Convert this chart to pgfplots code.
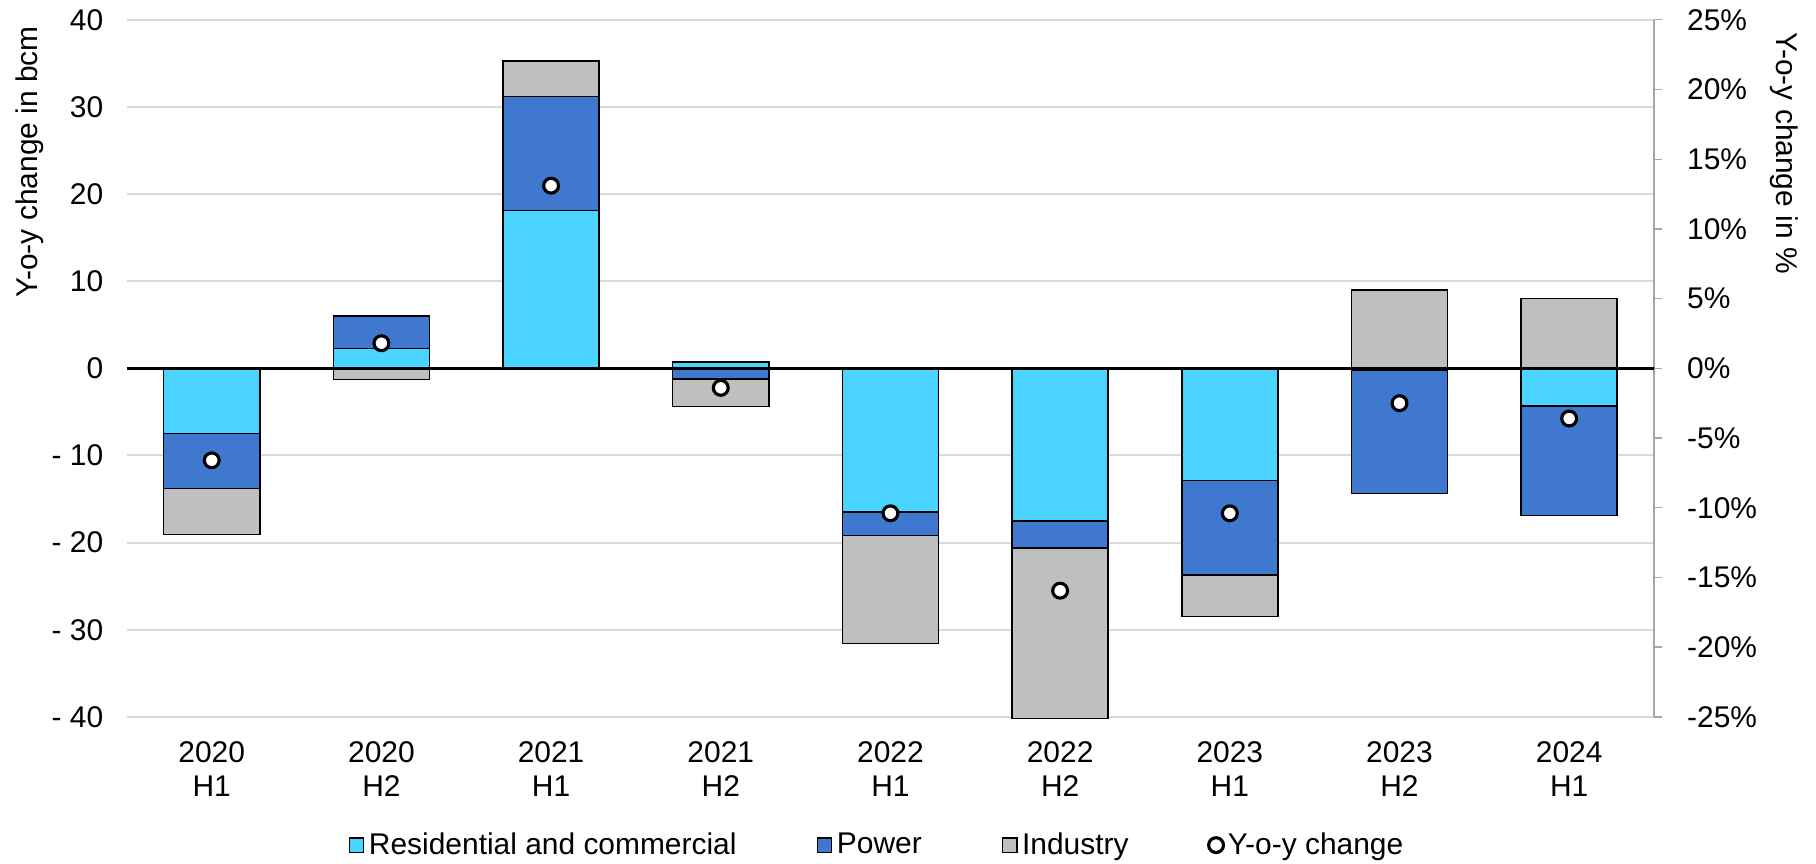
\documentclass[border=0pt]{standalone}
\usepackage{fontspec}
\setmainfont{Liberation Sans}
\usepackage{pgfplots}
\usepackage{pgfplotstable}
\pgfplotsset{compat=1.18}

\definecolor{rescol}{RGB}{74,212,255}
\definecolor{powcol}{RGB}{64,120,208}
\definecolor{indcol}{RGB}{191,191,191}
\definecolor{gridcol}{RGB}{217,217,217}
\definecolor{axgray}{RGB}{166,166,166}

% positive parts of the stacks (bcm)
\pgfplotstableread{
x res pow ind
0 0    0    0
1 2.3  3.7  0
2 18.1 13.1 4.05
3 0.7  0    0
4 0    0    0
5 0    0    0
6 0    0    0
7 0    0    9.0
8 0    0    8.0
}\pos

% negative parts of the stacks (bcm)
\pgfplotstableread{
x res pow ind
0 -7.5  -6.3  -5.3
1 0     0     -1.3
2 0     0     0
3 0     -1.2  -3.2
4 -16.5 -2.7  -12.4
5 -17.5 -3.1  -19.6
6 -12.9 -10.8 -4.8
7 -0.2  -14.15 0
8 -4.3  -12.6 0
}\neg

% y-o-y change in %
\pgfplotstableread{
x pct
0 -6.6
1 1.8
2 13.1
3 -1.4
4 -10.4
5 -15.95
6 -10.4
7 -2.5
8 -3.6
}\yoy

\pgfplotsset{
  base/.style={
    scale only axis, width=678.7pt, height=309.8pt,
    xmin=-0.5, xmax=8.5,
    font=\fontsize{13.3}{16}\selectfont,
  },
  bars/.style={ybar stacked, bar width=42.7pt, ymin=-40, ymax=40},
  segment/.style={fill=#1, draw=black, line width=0.65pt},
  boxlegend/.style={legend image code/.code={\draw[fill=#1, draw=black, line width=0.6pt] (0pt,-3.2pt) rectangle (6.4pt,3.2pt);}},
  dotlegend/.style={legend image code/.code={\draw[##1] plot coordinates {(3.4pt,0pt)};}},
}

\begin{document}
\begin{tikzpicture}
\begin{axis}[base, bars, name=A,
  axis line style={draw=none}, major tick length=0pt,
  ytick={-40,-30,...,40},
  yticklabels={- 40,- 30,- 20,- 10,0,10,20,30,40},
  yticklabel style={xshift=-7pt},
  xtick={0,...,8},
  xticklabels={{2020\\H1},{2020\\H2},{2021\\H1},{2021\\H2},{2022\\H1},{2022\\H2},{2023\\H1},{2023\\H2},{2024\\H1}},
  xticklabel style={align=center, font=\fontsize{13.3}{15.1}\selectfont, yshift=-7.4pt},
  ymajorgrids, grid style={gridcol, line width=0.9pt},
  ylabel={Y-o-y change in bcm},
  ylabel style={at={(axis description cs:-0.0635,0.796)}, anchor=center},
]
\addplot[segment=rescol] table[x=x, y=res] {\pos};
\addplot[segment=powcol] table[x=x, y=pow] {\pos};
\addplot[segment=indcol] table[x=x, y=ind] {\pos};
\end{axis}

\begin{axis}[base, bars, hide axis, clip=false]
\addplot[segment=rescol] table[x=x, y=res] {\neg};
\addplot[segment=powcol] table[x=x, y=pow] {\neg};
\addplot[segment=indcol] table[x=x, y=ind] {\neg};
\end{axis}

\begin{axis}[base,
  ymin=-25, ymax=25,
  axis x line=none, axis y line*=right,
  y axis line style={axgray, line width=0.6pt},
  ytick={-25,-20,...,25},
  yticklabels={-25\%,-20\%,-15\%,-10\%,-5\%,0\%,5\%,10\%,15\%,20\%,25\%},
  tick align=outside, major tick length=3.6pt,
  ytick style={axgray, line width=0.6pt},
  yticklabel style={xshift=7.6pt},
  extra y ticks={0}, extra y tick labels={},
  extra y tick style={ymajorgrids=true, major grid style={black, line width=1.1pt}, major tick length=0pt},
  ylabel={Y-o-y change in \%},
  ylabel style={at={(axis description cs:1.085,0.809)}, anchor=center, rotate=180},
  legend columns=4,
  legend style={draw=none, fill=none, at={(0.492,-0.184)}, anchor=center,
    font=\fontsize{13.3}{16}\selectfont,
    /tikz/every even column/.append style={column sep=33.6pt},
    nodes={inner xsep=2pt}},
]
\addlegendimage{boxlegend=rescol}
\addlegendimage{boxlegend=powcol}
\addlegendimage{boxlegend=indcol}
\addplot[only marks, mark=*, mark size=3.3pt, mark options={fill=white, draw=black, line width=1.4pt}, dotlegend]
  table[x=x, y=pct] {\yoy};
\legend{Residential and commercial, Power, Industry, Y-o-y change}
\end{axis}

\pgfresetboundingbox
\path[use as bounding box] ([shift={(-56.4pt,-65.3pt)}]A.south west) rectangle ([shift={(72pt,8.8pt)}]A.north east);
\end{tikzpicture}
\end{document}
